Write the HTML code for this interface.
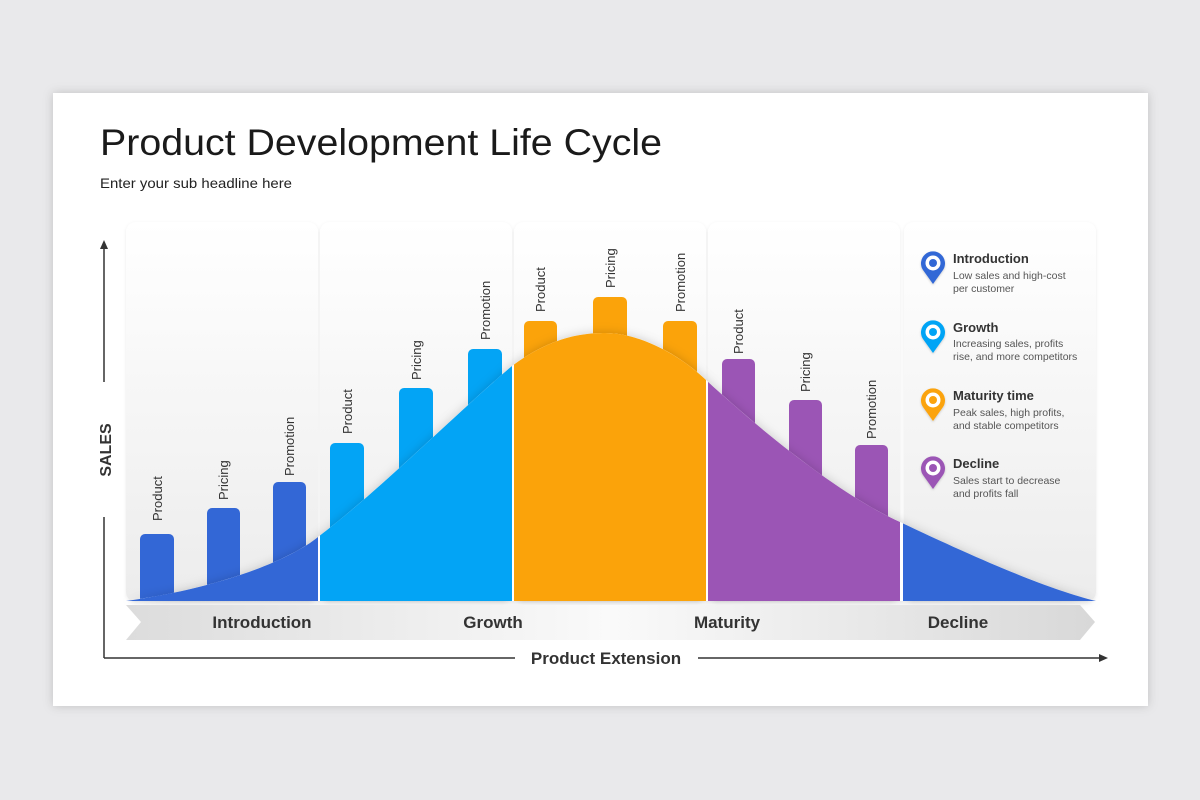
<!DOCTYPE html>
<html><head><meta charset="utf-8"><style>
html,body{margin:0;padding:0;background:#e9e9eb;}
svg{display:block;font-family:"Liberation Sans",sans-serif;}
</style></head><body>
<svg width="1200" height="800" viewBox="0 0 1200 800">
<defs>
<filter id="cs" x="-10%" y="-20%" width="120%" height="140%"><feDropShadow dx="0" dy="0" stdDeviation="5" flood-color="#000" flood-opacity="0.18"/></filter>
<filter id="ps" x="-10%" y="-10%" width="120%" height="120%"><feDropShadow dx="0" dy="1" stdDeviation="1.5" flood-color="#000" flood-opacity="0.08"/></filter>
<linearGradient id="pg" x1="0" y1="0" x2="0" y2="1"><stop offset="0" stop-color="#ffffff"/><stop offset="1" stop-color="#ececec"/></linearGradient>
<linearGradient id="ag" x1="0" y1="0" x2="1" y2="0"><stop offset="0" stop-color="#dcdcdc"/><stop offset="0.5" stop-color="#fafafa"/><stop offset="1" stop-color="#d8d8d8"/></linearGradient>
<clipPath id="cc"><path id="cp" d="M126,601 C220,588 290,560 318,537 C380,490 460,410 512,366 C550,338 580,333 605,333 C640,333 680,355 706,380 C760,430 840,495 900,522 C980,560 1050,590 1096,601 Z"/></clipPath>
<filter id="pin" x="-50%" y="-50%" width="200%" height="200%"><feDropShadow dx="0" dy="1" stdDeviation="1" flood-opacity="0.2"/></filter>
</defs>
<rect x="53" y="93" width="1095" height="613" fill="#fff" filter="url(#cs)"/>
<text x="100" y="155" font-size="37" fill="#1a1a1a" textLength="562" lengthAdjust="spacingAndGlyphs">Product Development Life Cycle</text>
<text x="100" y="188" font-size="14" fill="#222" textLength="192" lengthAdjust="spacingAndGlyphs">Enter your sub headline here</text>
<g filter="url(#ps)" fill="url(#pg)">
<rect x="126" y="222" width="192" height="380" rx="10"/>
<rect x="320" y="222" width="192" height="380" rx="10"/>
<rect x="514" y="222" width="192" height="380" rx="10"/>
<rect x="708" y="222" width="192" height="380" rx="10"/>
<rect x="904" y="222" width="192" height="380" rx="10"/>
</g>
<!-- bars -->
<g>
<path d="M140,601V539a5,5 0 0 1 5,-5h24a5,5 0 0 1 5,5V601Z" fill="#3367d6"/>
<path d="M207,601V513a5,5 0 0 1 5,-5h23a5,5 0 0 1 5,5V601Z" fill="#3367d6"/>
<path d="M273,601V487a5,5 0 0 1 5,-5h23a5,5 0 0 1 5,5V601Z" fill="#3367d6"/>
<path d="M330,601V448a5,5 0 0 1 5,-5h24a5,5 0 0 1 5,5V601Z" fill="#03a4f5"/>
<path d="M399,601V393a5,5 0 0 1 5,-5h24a5,5 0 0 1 5,5V601Z" fill="#03a4f5"/>
<path d="M468,601V354a5,5 0 0 1 5,-5h24a5,5 0 0 1 5,5V601Z" fill="#03a4f5"/>
<path d="M524,601V326a5,5 0 0 1 5,-5h23a5,5 0 0 1 5,5V601Z" fill="#fba30a"/>
<path d="M593,601V302a5,5 0 0 1 5,-5h24a5,5 0 0 1 5,5V601Z" fill="#fba30a"/>
<path d="M663,601V326a5,5 0 0 1 5,-5h24a5,5 0 0 1 5,5V601Z" fill="#fba30a"/>
<path d="M722,601V364a5,5 0 0 1 5,-5h23a5,5 0 0 1 5,5V601Z" fill="#9b55b5"/>
<path d="M789,601V405a5,5 0 0 1 5,-5h23a5,5 0 0 1 5,5V601Z" fill="#9b55b5"/>
<path d="M855,601V450a5,5 0 0 1 5,-5h23a5,5 0 0 1 5,5V601Z" fill="#9b55b5"/>
</g>
<g font-size="13" fill="#333">
<text transform="translate(162,521) rotate(-90)">Product</text>
<text transform="translate(228,500) rotate(-90)">Pricing</text>
<text transform="translate(294,476) rotate(-90)">Promotion</text>
<text transform="translate(352,434) rotate(-90)">Product</text>
<text transform="translate(421,380) rotate(-90)">Pricing</text>
<text transform="translate(490,340) rotate(-90)">Promotion</text>
<text transform="translate(545,312) rotate(-90)">Product</text>
<text transform="translate(615,288) rotate(-90)">Pricing</text>
<text transform="translate(685,312) rotate(-90)">Promotion</text>
<text transform="translate(743,354) rotate(-90)">Product</text>
<text transform="translate(810,392) rotate(-90)">Pricing</text>
<text transform="translate(876,439) rotate(-90)">Promotion</text>
</g>
<!-- curve -->
<use href="#cp" fill="#fff" filter="url(#cs)"/>
<g clip-path="url(#cc)">
<rect x="120" y="300" width="198" height="310" fill="#3367d6"/>
<rect x="320" y="300" width="192" height="310" fill="#03a4f5"/>
<rect x="514" y="300" width="192" height="310" fill="#fba30a"/>
<rect x="708" y="300" width="192" height="310" fill="#9b55b5"/>
<rect x="903" y="300" width="200" height="310" fill="#3367d6"/>
</g>
<!-- arrow band -->
<path d="M126,605 H1080 L1095,622 L1080,640 H126 L141,622 Z" fill="url(#ag)"/>
<g font-size="17" font-weight="bold" fill="#333" text-anchor="middle">
<text x="262" y="628">Introduction</text>
<text x="493" y="628">Growth</text>
<text x="727" y="628">Maturity</text>
<text x="958" y="628">Decline</text>
</g>
<!-- axes -->
<g stroke="#333" stroke-width="1.5" fill="none">
<line x1="104" y1="248" x2="104" y2="382"/>
<line x1="104" y1="517" x2="104" y2="658"/>
<line x1="104" y1="658" x2="515" y2="658"/>
<line x1="698" y1="658" x2="1100" y2="658"/>
</g>
<path d="M104,240 L100,249 L108,249 Z" fill="#333"/>
<path d="M1108,658 L1099,654 L1099,662 Z" fill="#333"/>
<text transform="translate(111,450) rotate(-90)" font-size="16" font-weight="bold" fill="#333" text-anchor="middle">SALES</text>
<text x="606" y="664" font-size="17" font-weight="bold" fill="#333" text-anchor="middle">Product Extension</text>
<!-- legend -->
<g filter="url(#pin)">
<path d="M933,284 L923,270 A12,12 0 1 1 943,270 Z" fill="#3367d6"/><circle cx="933" cy="263" r="7.5" fill="#fff"/><circle cx="933" cy="263" r="4" fill="#3367d6"/>
<path d="M933,353 L923,339 A12,12 0 1 1 943,339 Z" fill="#03a4f5"/><circle cx="933" cy="332" r="7.5" fill="#fff"/><circle cx="933" cy="332" r="4" fill="#03a4f5"/>
<path d="M933,421 L923,407 A12,12 0 1 1 943,407 Z" fill="#fba30a"/><circle cx="933" cy="400" r="7.5" fill="#fff"/><circle cx="933" cy="400" r="4" fill="#fba30a"/>
<path d="M933,489 L923,475 A12,12 0 1 1 943,475 Z" fill="#9b55b5"/><circle cx="933" cy="468" r="7.5" fill="#fff"/><circle cx="933" cy="468" r="4" fill="#9b55b5"/>
</g>
<g fill="#333">
<text x="953" y="263" font-size="13" font-weight="bold">Introduction</text>
<text x="953" y="279" font-size="10.5" fill="#555">Low sales and high-cost</text>
<text x="953" y="292" font-size="10.5" fill="#555">per customer</text>
<text x="953" y="332" font-size="13" font-weight="bold">Growth</text>
<text x="953" y="347" font-size="10.5" fill="#555">Increasing sales, profits</text>
<text x="953" y="360" font-size="10.5" fill="#555">rise, and more competitors</text>
<text x="953" y="400" font-size="13" font-weight="bold">Maturity time</text>
<text x="953" y="416" font-size="10.5" fill="#555">Peak sales, high profits,</text>
<text x="953" y="429" font-size="10.5" fill="#555">and stable competitors</text>
<text x="953" y="468" font-size="13" font-weight="bold">Decline</text>
<text x="953" y="484" font-size="10.5" fill="#555">Sales start to decrease</text>
<text x="953" y="497" font-size="10.5" fill="#555">and profits fall</text>
</g>
</svg>
</body></html>
